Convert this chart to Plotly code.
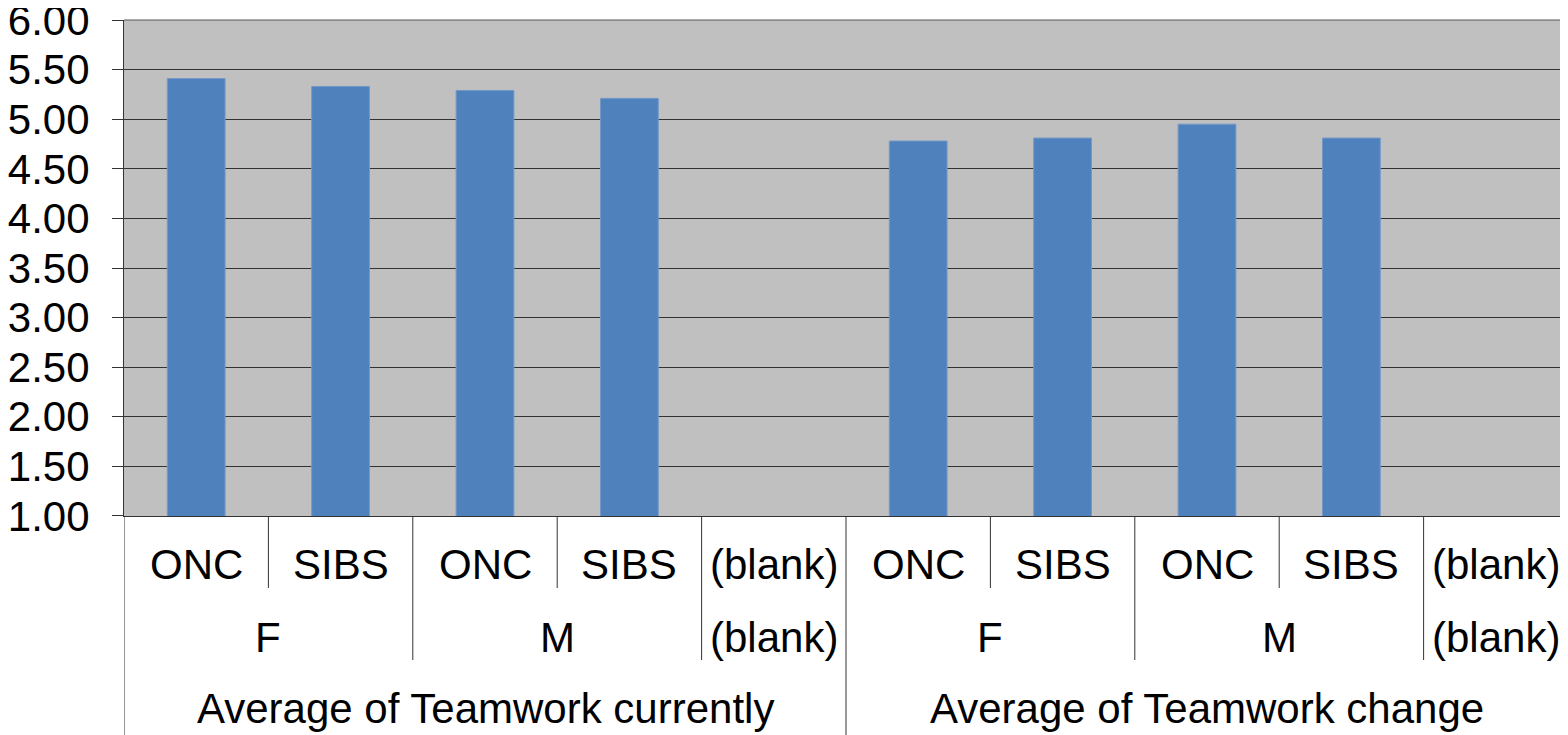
import plotly.graph_objects as go

# three-level category axis (pivot chart style)
measures = ["Average of Teamwork currently"] * 5 + ["Average of Teamwork change"] * 5
genders = ["F", "F", "M", "M", "(blank)"] * 2
sites = ["ONC", "SIBS", "ONC", "SIBS", "(blank)"] * 2
values = [5.41, 5.33, 5.29, 5.21, None, 4.78, 4.81, 4.95, 4.81, None]

y_ticks = [1.0, 1.5, 2.0, 2.5, 3.0, 3.5, 4.0, 4.5, 5.0, 5.5, 6.0]

# the page body has an 8px margin, so the figure is sized to fit inside it
W, H = 1560, 727
M_L, M_R, M_T, M_B = 116, 0, 12, 219
PLOT_H = H - M_T - M_B
FONT = dict(family="Arial, Liberation Sans, sans-serif", size=42, color="black")
LINE_C = "#333333"


def py(px):
    # pixel offset below the plot area -> paper y
    return -px / PLOT_H


def runs(labels):
    # group consecutive equal labels -> (label, start, end)
    out = []
    start = 0
    for i in range(1, len(labels) + 1):
        if i == len(labels) or labels[i] != labels[start]:
            out.append((labels[start], start, i - 1))
            start = i
    return out


n = len(values)
x = list(range(n))

fig = go.Figure()
fig.add_trace(go.Bar(
    x=x, y=values, width=0.4,
    marker=dict(color="#4F81BD", line=dict(color="#7499C9", width=1)),
    showlegend=False))

# category labels, one row per level
rows = [(sites, 48), (genders, 121), (measures, 192)]
for labels, off in rows:
    for text, a, b in runs(labels):
        fig.add_annotation(x=(a + b) / 2, y=py(off), xref="x", yref="paper",
                           text=text, showarrow=False, font=FONT,
                           xanchor="center", yanchor="middle")

# separator lines between categories
levels = [sites, genders, measures]
depths = [72, 144, M_B]
fig.add_shape(type="line", xref="x", yref="paper", x0=-0.5, x1=-0.5,
              y0=0, y1=py(M_B), line=dict(color=LINE_C, width=1))
for i in range(n - 1):
    depth = depths[0]
    for lv in range(len(levels)):
        if levels[lv][i] != levels[lv][i + 1]:
            depth = depths[lv]
    fig.add_shape(type="line", xref="x", yref="paper", x0=i + 0.5, x1=i + 0.5,
                  y0=0, y1=py(depth), line=dict(color=LINE_C, width=1))

# top border at 6.00
fig.add_shape(type="line", xref="paper", yref="paper", x0=0, x1=1, y0=1, y1=1,
              line=dict(color="#555555", width=1))

fig.update_layout(
    width=W, height=H,
    margin=dict(l=M_L, r=M_R, t=M_T, b=M_B),
    paper_bgcolor="white",
    plot_bgcolor="#C0C0C0",
    font=FONT,
    bargap=0.6,
)
fig.update_xaxes(range=[-0.5, n - 0.5], showticklabels=False, showgrid=False,
                 zeroline=False, showline=True, linecolor=LINE_C, linewidth=1,
                 ticks="", automargin=False)
fig.update_yaxes(range=[0.9999, 6.0001], tickvals=y_ticks, tickformat=".2f",
                 showgrid=True, gridcolor=LINE_C, gridwidth=1, zeroline=False,
                 showline=True, linecolor=LINE_C, linewidth=1,
                 ticks="outside", ticklen=11, tickcolor=LINE_C,
                 ticklabelstandoff=14, ticklabeloverflow="allow",
                 tickfont=FONT, automargin=False)

fig.write_html("out.html")
